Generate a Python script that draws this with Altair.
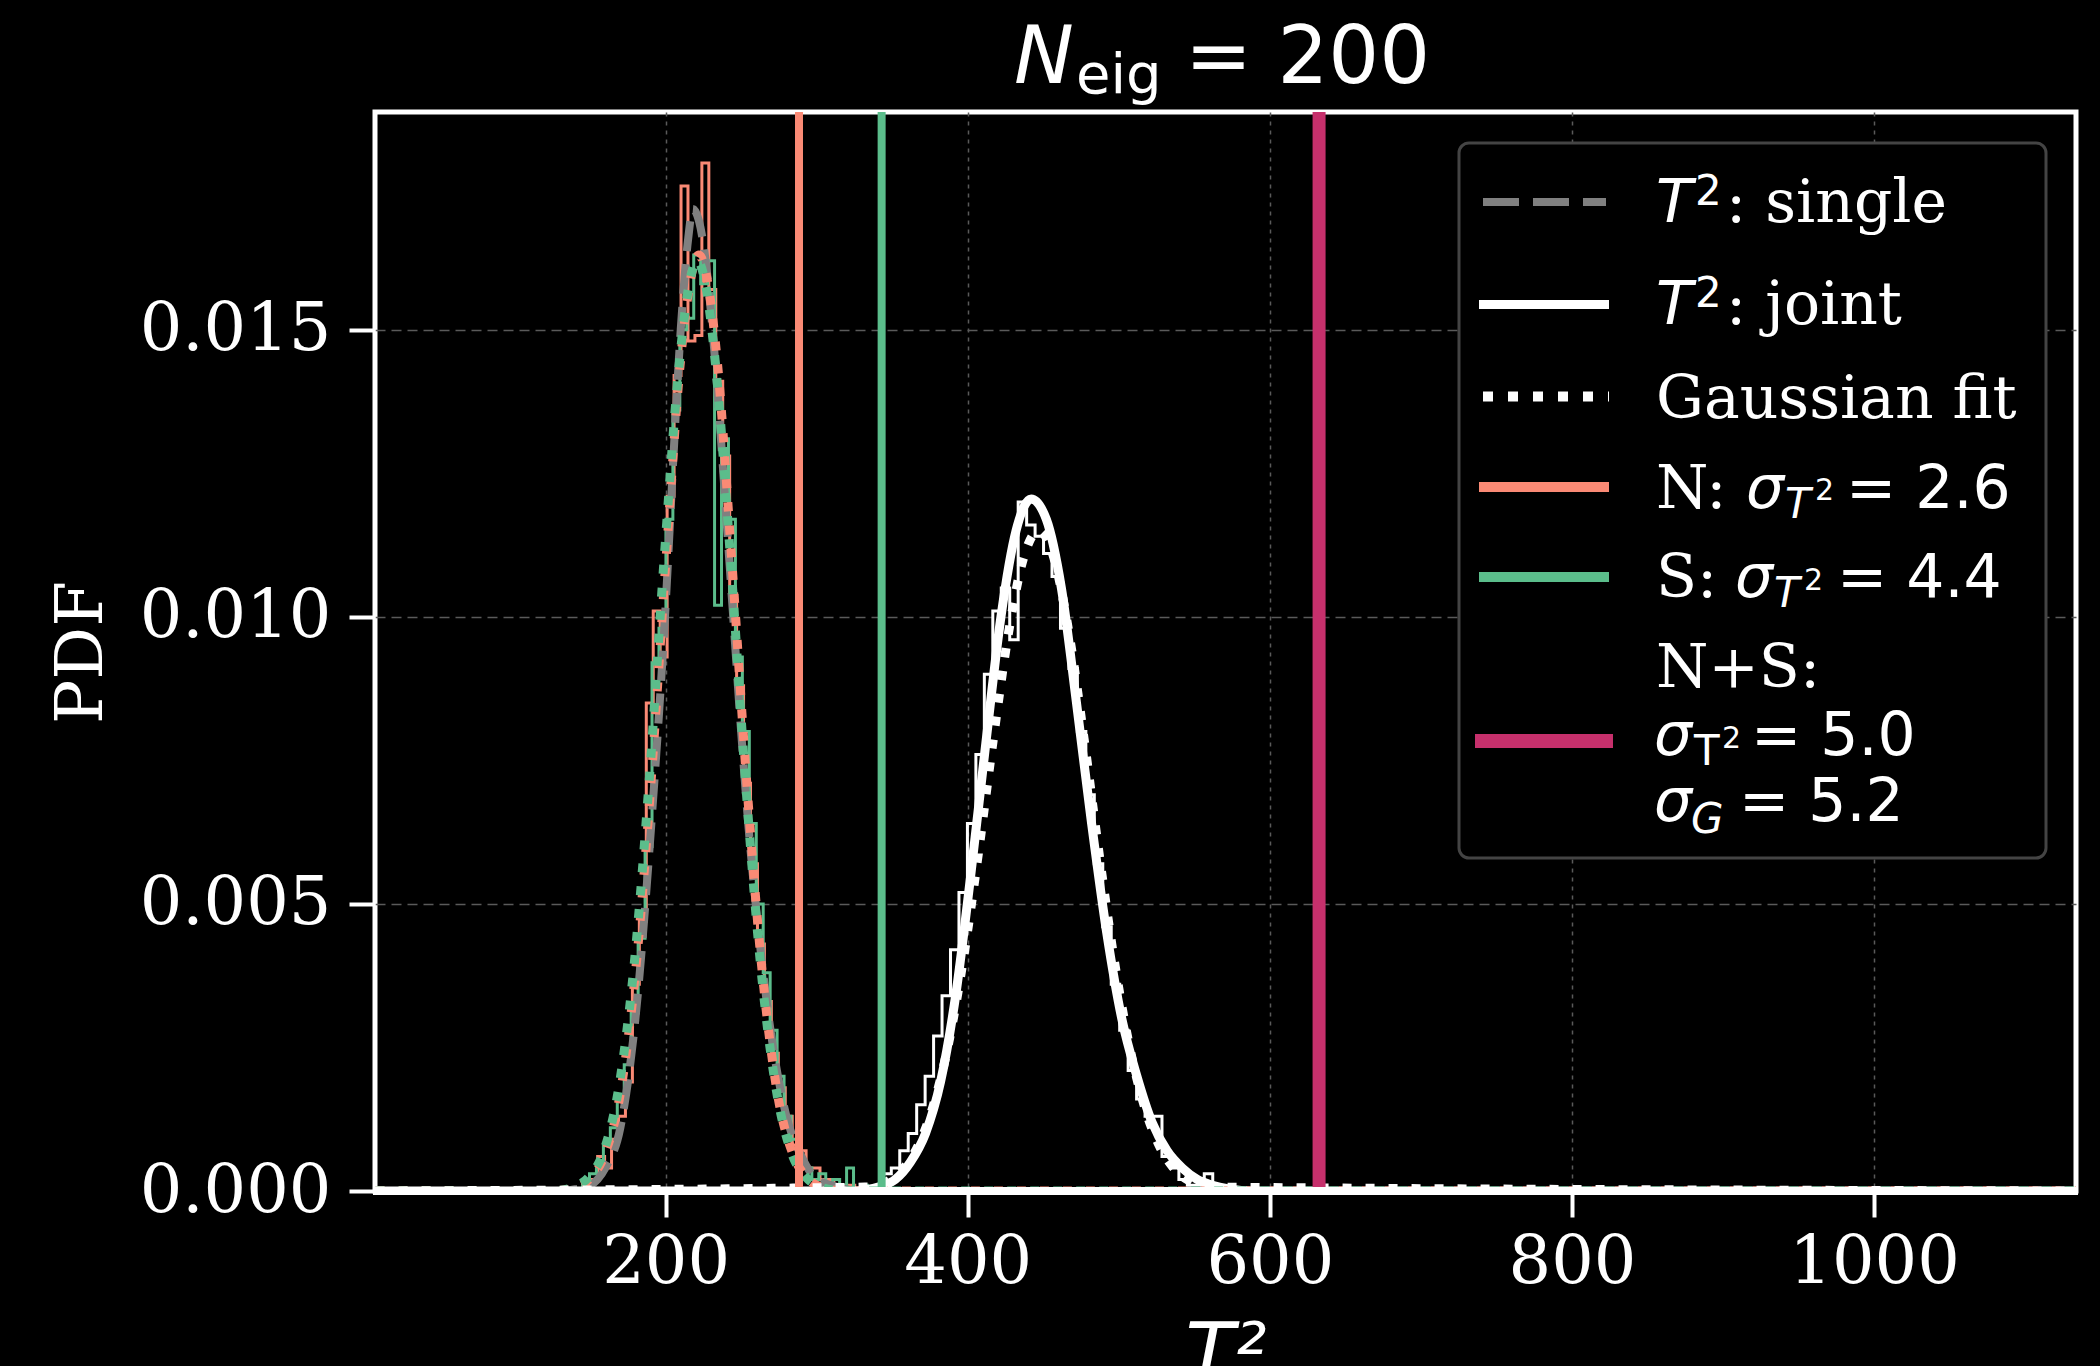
import altair as alt
import pandas as pd

# ---------------- data ----------------
# N histogram (salmon): first bin edge, bin width, bin heights
N_start, N_width = 145.8, 4.6
N_hist = [0.0001, 0.0002, 0.0006, 0.0004, 0.0009, 0.0013, 0.0019, 0.0036, 0.0047, 0.0085,
          0.0101, 0.0093, 0.0121, 0.0142, 0.0175, 0.0148, 0.0149, 0.0179, 0.0157, 0.0141,
          0.0128, 0.0104, 0.0088, 0.0071, 0.0057, 0.0043, 0.0033, 0.0024, 0.0018, 0.0013,
          0.0008, 0.0007, 0.0004, 0.0004, 0.0002, 0.0002, 0.0001, 0.0000, 0.0001]
# S histogram (green)
S_start, S_width = 145.0, 4.6
S_hist = [0.0002, 0.0003, 0.0005, 0.0008, 0.0011, 0.0016, 0.0022, 0.0031, 0.0044, 0.0060,
          0.0092, 0.0098, 0.0117, 0.0136, 0.0150, 0.0152, 0.0163, 0.0158, 0.0162, 0.0102,
          0.0131, 0.0117, 0.0093, 0.0080, 0.0064, 0.0050, 0.0038, 0.0028, 0.0020, 0.0013,
          0.0009, 0.0005, 0.0004, 0.0002, 0.0003, 0.0001, 0.0002, 0.0001, 0.0004, 0.0000,
          0.0001]
# N+S joint histogram (white)
J_start, J_width = 343.8, 5.6
J_hist = [0.0003, 0.0004, 0.0007, 0.0010, 0.0015, 0.0020, 0.0027, 0.0034, 0.0042, 0.0052,
          0.0064, 0.0076, 0.0090, 0.0101, 0.0105, 0.0096, 0.0120, 0.0116, 0.0114, 0.0111,
          0.0107, 0.0098, 0.0091, 0.0080, 0.0069, 0.0057, 0.0046, 0.0036, 0.0028, 0.0021,
          0.0016, 0.0013, 0.0013, 0.0006, 0.0004, 0.0002, 0.0001, 0.0001, 0.0003, 0.0000]

# T^2 single (grey dashed)
single_x = [8, 130, 140, 150, 160, 170, 180, 190, 200, 205, 210, 215, 218, 222, 226, 230,
            235, 240, 245, 250, 255, 260, 265, 270, 280, 290, 300, 310, 320, 335, 1134]
single_y = [0, 0, 0.00003, 0.0001, 0.0004, 0.0011, 0.0030, 0.0062, 0.0102, 0.0127, 0.0150,
            0.0166, 0.0171, 0.0169, 0.0163, 0.0153, 0.0137, 0.0118, 0.0099, 0.0080, 0.0063,
            0.0049, 0.0037, 0.0027, 0.0013, 0.0006, 0.0002, 0.0001, 0.00003, 0, 0]
# T^2 joint (white solid)
joint_x = [8, 322, 332, 342, 352, 362, 372, 382, 392, 402, 412, 422, 432, 442, 452, 462, 472,
           482, 492, 502, 512, 522, 532, 542, 552, 562, 572, 590, 1134]
joint_y = [0, 0, 0.00002, 0.00008, 0.0002, 0.0005, 0.0010, 0.0019, 0.0034, 0.0055, 0.0078,
           0.0100, 0.0115, 0.01205, 0.0117, 0.0105, 0.0085, 0.0064, 0.0045, 0.0030, 0.0020,
           0.0012, 0.0007, 0.0004, 0.0002, 0.0001, 0.00004, 0, 0]
# Gaussian fits (dotted)
fitN_x = [8, 130, 140, 150, 160, 170, 180, 190, 200, 210, 216, 222, 228, 234, 244, 254, 264,
          274, 284, 294, 304, 314, 324, 1134]
fitN_y = [0, 0.00001, 0.00006, 0.00022, 0.00066, 0.0017, 0.0038, 0.0070, 0.0109, 0.0145,
          0.0158, 0.0163, 0.0158, 0.0145, 0.0109, 0.0070, 0.0038, 0.0017, 0.00066, 0.00022,
          0.00006, 0.00001, 0, 0]
fitS_x = [8, 129, 139, 149, 159, 169, 179, 189, 199, 209, 215, 221, 227, 233, 243, 253, 263,
          273, 283, 293, 303, 313, 323, 1134]
fitS_y = [0, 0.00001, 0.00007, 0.00024, 0.00069, 0.0018, 0.0039, 0.0071, 0.0110, 0.0144,
          0.0157, 0.0162, 0.0157, 0.0144, 0.0110, 0.0071, 0.0039, 0.0018, 0.00069, 0.00024,
          0.00007, 0.00001, 0, 0]
fitJ_x = [8, 337, 347, 357, 367, 377, 387, 397, 407, 417, 427, 437, 447, 457, 467, 477, 487,
          497, 507, 517, 527, 537, 547, 557, 1134]
fitJ_y = [0, 0.00007, 0.00017, 0.00038, 0.00078, 0.00147, 0.00253, 0.00402, 0.00587, 0.00788,
          0.00972, 0.01103, 0.0115, 0.01103, 0.00972, 0.00788, 0.00587, 0.00402, 0.00253,
          0.00147, 0.00078, 0.00038, 0.00017, 0.00007, 0]

# vertical threshold lines: N, S, N+S
vline_x = [288.3, 343.0, 632.6]

x_ticks = [200, 400, 600, 800, 1000]
y_ticks = [0.0, 0.005, 0.010, 0.015]
x_domain = [7.6, 1133.7]
y_domain = [0.0, 0.01879]

title_parts = ["N", "eig", "= 200"]
legend_plain = [": single", ": joint", "Gaussian fit", "N:", "S:", "N+S:"]
legend_values = ["= 2.6", "= 4.4", "= 5.0", "= 5.2"]

C_N, C_S, C_NS, C_GREY = "#FA8A75", "#5BBD8B", "#C6306C", "#808080"

# ---------------- helpers ----------------
x_axis = alt.Axis(values=x_ticks, format="d", title="T²", titleFont="DejaVu Sans",
                  titleFontStyle="italic", titleFontWeight="normal", titleFontSize=80,
                  titleColor="white", titleY=188, titleBaseline="alphabetic",
                  labelFont="DejaVu Serif", labelFontSize=67, labelColor="white",
                  labelPadding=12, labelFlush=False, labelOverlap=False, labelLimit=500,
                  tickColor="white", tickWidth=4, tickSize=26, domain=False,
                  grid=True, gridColor="#5a5a5a", gridDash=[4, 5], gridWidth=1.5)
y_axis = alt.Axis(values=y_ticks, format=".3f", title="PDF", titleFont="DejaVu Serif",
                  titleFontWeight="normal", titleFontSize=66, titleColor="white",
                  titleX=-294, titleY=540, titleAngle=270, titleAlign="center",
                  titleBaseline="middle",
                  labelFont="DejaVu Serif", labelFontSize=67, labelColor="white",
                  labelPadding=18, labelFlush=False, labelOverlap=False, labelLimit=500,
                  tickColor="white", tickWidth=4, tickSize=26, domain=False,
                  grid=True, gridColor="#5a5a5a", gridDash=[10, 6], gridWidth=1.5)


def X(f="x"):
    return alt.X(f + ":Q", scale=alt.Scale(domain=x_domain, nice=False, zero=False), axis=x_axis)


def Y(f="y"):
    return alt.Y(f + ":Q", scale=alt.Scale(domain=y_domain, nice=False, zero=False), axis=y_axis)


def hist_layer(start, width, heights, color):
    xs, ys = [start], [0.0]
    for i, h in enumerate(heights):
        xs.append(start + i * width)
        ys.append(h)
    xs.append(start + len(heights) * width)
    ys.append(0.0)
    df = pd.DataFrame({"x": xs, "y": ys, "i": list(range(len(xs)))})
    return alt.Chart(df).mark_line(interpolate="step-after", color=color, strokeWidth=3,
                                   clip=True).encode(x=X(), y=Y(), order="i:Q")


def curve_layer(xs, ys, color, width, dash=None):
    df = pd.DataFrame({"x": xs, "y": ys, "i": list(range(len(xs)))})
    kw = dict(interpolate="monotone", color=color, strokeWidth=width, clip=True,
              strokeCap="butt")
    if dash:
        kw["strokeDash"] = dash
    return alt.Chart(df).mark_line(**kw).encode(x=X(), y=Y(), order="i:Q")


def vline_layer(xv, color, width):
    df = pd.DataFrame({"x": [xv]})
    return alt.Chart(df).mark_rule(color=color, strokeWidth=width, clip=True).encode(x=X())


def txt(s, x, y, size, font="DejaVu Sans", style="normal"):
    return alt.Chart(pd.DataFrame({"t": [s]})).mark_text(
        font=font, fontStyle=style, fontSize=size, color="white", align="left",
        baseline="alphabetic").encode(text="t:N", x=alt.value(x), y=alt.value(y))


def handle(x1, x2, y, color, width, dash=None):
    kw = dict(color=color, strokeWidth=width, strokeCap="butt")
    if dash:
        kw["strokeDash"] = dash
    return alt.Chart(pd.DataFrame({"a": [0]})).mark_rule(**kw).encode(
        x=alt.value(x1), x2=alt.value(x2), y=alt.value(y))


SERIF = "DejaVu Serif"
layers = [
    hist_layer(N_start, N_width, N_hist, C_N),
    hist_layer(S_start, S_width, S_hist, C_S),
    hist_layer(J_start, J_width, J_hist, "white"),
    curve_layer(single_x, single_y, C_GREY, 8, [30, 13]),
    curve_layer(joint_x, joint_y, "white", 9),
    curve_layer(fitN_x, fitN_y, C_N, 9, [9, 14]),
    curve_layer(fitS_x, fitS_y, C_S, 9, [9, 14]),
    curve_layer(fitJ_x, fitJ_y, "white", 9, [9, 14]),
    vline_layer(vline_x[0], C_N, 8),
    vline_layer(vline_x[1], C_S, 8),
    vline_layer(vline_x[2], C_NS, 13),
    # bottom spine drawn over the curves lying on zero
    alt.Chart(pd.DataFrame({"y": [0.0]})).mark_rule(color="white", strokeWidth=8).encode(
        y=Y(), x=alt.value(-2), x2=alt.value(1703)),
]

# title  N_eig = 200
layers += [
    txt(title_parts[0], 639, -29, 80, style="italic"),
    txt(title_parts[1], 701, -19, 56),
    txt(title_parts[2], 810, -29, 80),
]

# legend box
layers.append(alt.Chart(pd.DataFrame({"a": [0]})).mark_rect(
    fill="black", stroke="#444444", strokeWidth=3, cornerRadius=10).encode(
    x=alt.value(1084), x2=alt.value(1671), y=alt.value(31), y2=alt.value(746)))

# legend handles
layers += [
    handle(1108, 1231, 90, C_GREY, 8, [36, 14]),
    handle(1104, 1234, 192.5, "white", 9),
    handle(1108, 1234, 284.5, "white", 10, [10, 15]),
    handle(1104, 1234, 375, C_N, 10),
    handle(1104, 1234, 465, C_S, 10),
    handle(1100, 1238, 629, C_NS, 14),
]

# legend texts
LS = 60
layers += [
    # row 1: T^2: single
    txt("T", 1281, 110, LS, style="italic"),
    txt("2", 1320, 93, 42),
    txt(legend_plain[0], 1351, 110, LS, font=SERIF),
    # row 2: T^2: joint
    txt("T", 1281, 211.5, LS, style="italic"),
    txt("2", 1320, 194.5, 42),
    txt(legend_plain[1], 1351, 211.5, LS, font=SERIF),
    # row 3
    txt(legend_plain[2], 1281, 306, LS, font=SERIF),
    # row 4: N: sigma_{T^2} = 2.6
    txt(legend_plain[3], 1281, 395.5, LS, font=SERIF),
    txt("σ", 1371, 395.5, LS, style="italic"),
    txt("T", 1410, 405.5, 42, style="italic"),
    txt("2", 1440, 388, 30),
    txt(legend_values[0], 1471, 395.5, LS),
    # row 5: S: sigma_{T^2} = 4.4
    txt(legend_plain[4], 1281, 485, LS, font=SERIF),
    txt("σ", 1360, 485, LS, style="italic"),
    txt("T", 1399, 495, 42, style="italic"),
    txt("2", 1429, 477.5, 30),
    txt(legend_values[1], 1462, 485, LS),
    # row 6: N+S: / sigma_T2 = 5.0 / sigma_G = 5.2
    txt(legend_plain[5], 1281, 575, LS, font=SERIF),
    txt("σ", 1279, 643, LS, style="italic"),
    txt("T", 1319, 653, 42),
    txt("2", 1347, 636, 30),
    txt(legend_values[2], 1376, 643, LS),
    txt("σ", 1279, 709, LS, style="italic"),
    txt("G", 1316, 721, 42, style="italic"),
    txt(legend_values[3], 1364, 709, LS),
]

chart = alt.layer(*layers).properties(
    width=1701, height=1079,
    autosize=alt.AutoSizeParams(type="none"),
    padding={"left": 375, "top": 112, "right": 24, "bottom": 175},
    background="black",
).configure_view(stroke="white", strokeWidth=5, fill="black")

chart.save("out.html", embed_options={"renderer": "svg", "actions": False})
